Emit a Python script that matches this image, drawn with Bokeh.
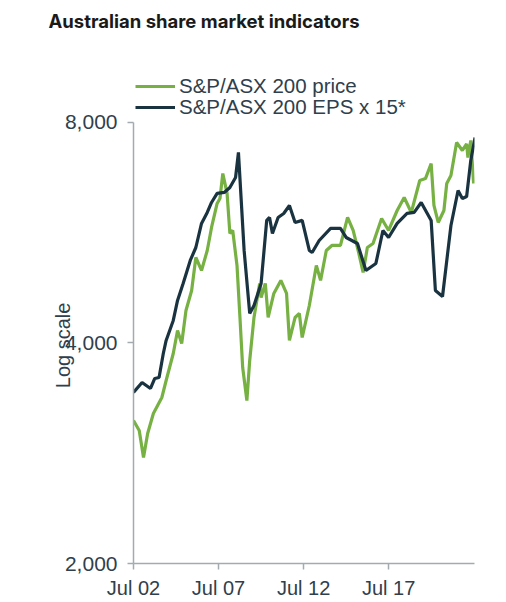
import pandas as pd
from bokeh.plotting import figure
from bokeh.models import Range1d, FixedTicker, Legend, LegendItem, DatetimeTickFormatter
from bokeh.embed import file_html
from bokeh.resources import INLINE

title_text = "Australian share market indicators"
series_names = ["S&P/ASX 200 price", "S&P/ASX 200 EPS x 15*"]
y_axis_label = "Log scale"

price_dates = ["2002-07", "2002-11", "2003-02", "2003-05", "2003-09", "2004-03", "2004-06",
               "2004-11", "2005-02", "2005-05", "2005-08", "2005-12", "2006-03", "2006-07",
               "2006-11", "2007-02", "2007-06", "2007-08", "2007-10", "2008-01", "2008-03",
               "2008-05", "2008-08", "2008-10", "2008-12", "2009-03", "2009-05", "2009-08",
               "2009-12", "2010-01", "2010-04", "2010-06", "2010-10", "2011-03", "2011-07",
               "2011-09", "2012-01", "2012-04", "2012-06", "2012-11", "2013-04", "2013-07",
               "2013-11", "2014-03", "2014-09", "2015-02", "2015-06", "2015-10", "2016-01",
               "2016-04", "2016-08", "2017-02", "2017-07", "2018-01", "2018-06", "2018-11",
               "2019-05", "2019-09", "2020-01", "2020-03", "2020-06", "2020-10", "2020-12",
               "2021-03", "2021-07", "2021-11", "2022-02", "2022-03", "2022-05", "2022-07"]
price_values = [3135, 3038, 2791, 3010, 3205, 3370, 3555,
                3870, 4160, 3994, 4430, 4718, 5233, 5024,
                5350, 5751, 6202, 6300, 6815, 6400, 5643,
                5697, 5104, 4361, 3703, 3338, 3786, 4334,
                4823, 4615, 4823, 4334, 4674, 4869, 4674,
                4032, 4334, 4389, 4070, 4500, 5104, 4869,
                5350, 5435, 5435, 5935, 5697, 5300, 4992,
                5400, 5469, 5916, 5697, 6066, 6320, 6029,
                6666, 6706, 7032, 6163, 5842, 6066, 6604,
                6772, 7512, 7326, 7480, 7166, 7560, 6604]

eps_dates = ["2002-07", "2003-01", "2003-07", "2003-10", "2004-01", "2004-04", "2004-06",
             "2004-11", "2005-02", "2005-06", "2005-11", "2006-03", "2006-07", "2006-11",
             "2007-02", "2007-06", "2007-11", "2008-03", "2008-07", "2008-09", "2009-01",
             "2009-05", "2009-08", "2010-01", "2010-05", "2010-07", "2010-09", "2011-01",
             "2011-05", "2011-09", "2012-01", "2012-06", "2012-11", "2013-01", "2013-06",
             "2014-02", "2014-09", "2015-01", "2015-09", "2016-03", "2016-10", "2017-03",
             "2017-07", "2018-01", "2018-08", "2019-01", "2019-06", "2020-01", "2020-04",
             "2020-09", "2021-03", "2021-08", "2021-11", "2022-02", "2022-05", "2022-08"]
eps_values = [3424, 3533, 3467, 3578, 3589, 3870, 4032,
              4294, 4572, 4823, 5184, 5400, 5824, 6029,
              6221, 6400, 6420, 6522, 6728, 7280, 5350,
              4389, 4500, 4823, 5880, 5935, 5643, 5935,
              6010, 6163, 5842, 5880, 5350, 5316, 5520,
              5733, 5733, 5573, 5469, 5024, 5136, 5697,
              5573, 5824, 6010, 6029, 6221, 5880, 4718,
              4630, 5787, 6460, 6300, 6340, 7099, 7632]

x_tick_dates = ["2002-07-01", "2007-07-01", "2012-07-01", "2017-07-01"]
y_ticks = [2000, 4000, 8000]
y_tick_labels = ["2,000", "4,000", "8,000"]

GREEN = "#77b143"
NAVY = "#1a3340"
TEXT = "#2f404c"
AXIS = "#a3abb0"
FONT = "Liberation Sans"

px = pd.to_datetime(price_dates)
ex = pd.to_datetime(eps_dates)

# frame extends above the 8,000 line to host the legend; axis line bounded to 2,000-8,000
p = figure(width=506, height=602, x_axis_type="datetime", y_axis_type="log",
           x_range=Range1d(pd.Timestamp("2002-07-01"), pd.Timestamp("2022-07-20")),
           y_range=Range1d(2000, 10416),
           output_backend="svg", toolbar_location=None,
           min_border_left=133, min_border_right=32, min_border_top=38, min_border_bottom=39)

p.outline_line_color = None
p.xgrid.visible = False
p.ygrid.visible = False
p.background_fill_color = "white"
p.border_fill_color = "white"

r_price = p.line(px, price_values, line_color=GREEN, line_width=3.2)
r_eps = p.line(ex, eps_values, line_color=NAVY, line_width=3.2)

# title
p.title.text = title_text
p.title.text_font = "Inter"
p.title.text_font_style = "bold"
p.title.text_font_size = "18.5px"
p.title.text_color = "#1a1a1a"
p.title.align = "left"
p.title.offset = -85
p.title.standoff = 14

# axes
for ax in (p.xaxis[0], p.yaxis[0]):
    ax.axis_line_color = AXIS
    ax.axis_line_width = 1.5
    ax.major_tick_line_color = AXIS
    ax.major_tick_line_width = 1.5
    ax.major_tick_in = 0
    ax.major_tick_out = 6
    ax.minor_tick_line_color = None
    ax.major_label_text_font = FONT
    ax.major_label_text_color = TEXT

p.xaxis[0].ticker = FixedTicker(ticks=[pd.Timestamp(d).value / 1e6 for d in x_tick_dates])
p.xaxis[0].formatter = DatetimeTickFormatter(days="%b %y", months="%b %y", years="%b %y")
p.xaxis[0].major_label_standoff = 7
p.xaxis[0].major_label_text_font_size = "20px"

p.yaxis[0].bounds = (y_ticks[0], y_ticks[-1])
p.yaxis[0].ticker = FixedTicker(ticks=y_ticks)
p.yaxis[0].major_label_overrides = {t: l for t, l in zip(y_ticks, y_tick_labels)}
p.yaxis[0].major_label_standoff = 10
p.yaxis[0].major_label_text_font_size = "21px"
# the label is centred on the (taller) frame; trailing no-break spaces move the
# visible words down to sit beside the 4,000 tick as in the original
p.yaxis[0].axis_label = y_axis_label + "\u00a0" * 16
p.yaxis[0].axis_label_text_font = FONT
p.yaxis[0].axis_label_text_font_size = "20px"
p.yaxis[0].axis_label_text_font_style = "normal"
p.yaxis[0].axis_label_text_color = TEXT
p.yaxis[0].axis_label_standoff = -12

# one legend per row so that each row's position is set exactly
legend_kw = dict(glyph_width=40, glyph_height=18, label_height=18, label_standoff=4,
                 spacing=0, padding=0, margin=0, background_fill_alpha=0,
                 border_line_color=None, label_text_font=FONT,
                 label_text_font_size="20.5px", label_text_color=TEXT)
for renderer, name, loc in ((r_price, series_names[0], (2, 465)),
                            (r_eps, series_names[1], (2, 444))):
    lg = Legend(items=[LegendItem(label=name, renderers=[renderer])], location=loc, **legend_kw)
    p.add_layout(lg)

open("out.html", "w").write(file_html(p, INLINE))
